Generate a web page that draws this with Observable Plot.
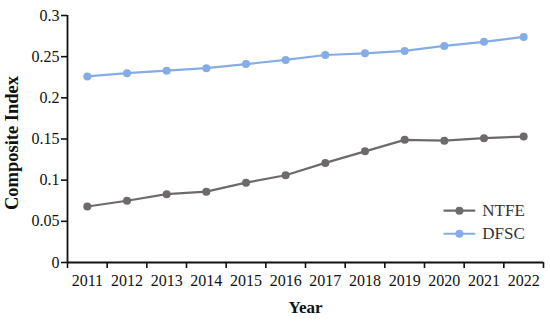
<!DOCTYPE html>
<html><head><meta charset="utf-8">
<script src="https://cdn.jsdelivr.net/npm/d3@7"></script>
<script src="https://cdn.jsdelivr.net/npm/@observablehq/plot@0.6"></script>
<style>
body{margin:0;background:#fff;}
svg text{font-family:'Liberation Serif','DejaVu Serif',serif;}
</style>
</head><body><div id="chart"></div>
<script>
const years = [2011,2012,2013,2014,2015,2016,2017,2018,2019,2020,2021,2022];
const ntfe = [0.068,0.075,0.083,0.086,0.097,0.106,0.121,0.135,0.149,0.148,0.151,0.153];
const dfsc = [0.226,0.230,0.233,0.236,0.241,0.246,0.252,0.254,0.257,0.263,0.268,0.274];
const seriesNames = ["NTFE","DFSC"];
const seriesColors = ["#6e6a6b","#86ace6"];
const yTicks = [0,0.05,0.1,0.15,0.2,0.25,0.3];
const yearEdges = [2010.5,2011.5,2012.5,2013.5,2014.5,2015.5,2016.5,2017.5,2018.5,2019.5,2020.5,2021.5,2022.5];

const data = [];
years.forEach((y,i)=>{ data.push({year:y, value:ntfe[i], series:"NTFE"}); });
years.forEach((y,i)=>{ data.push({year:y, value:dfsc[i], series:"DFSC"}); });

const legend = [
  {series:"NTFE", x1:2019.98, x2:2020.78, y:0.0629},
  {series:"DFSC", x1:2019.98, x2:2020.78, y:0.0349}
];

const font = "'Liberation Serif', 'DejaVu Serif', serif";
const chart = Plot.plot({
  width:550, height:321,
  marginLeft:67, marginRight:7, marginTop:15, marginBottom:59,
  style:{fontFamily:font, fontSize:"16px", color:"#111", background:"#fff"},
  x:{domain:[2010.5,2022.5], label:null},
  y:{domain:[0,0.3], label:null},
  color:{domain:seriesNames, range:seriesColors},
  marks:[
    Plot.axisY({ticks:yTicks, tickFormat:d=>String(d), tickSize:6, tickPadding:2, strokeWidth:1.6, stroke:"#111", fontSize:16, fontFamily:font}),
    Plot.axisX({ticks:yearEdges, tickFormat:()=>"", tickSize:6, strokeWidth:1.6, stroke:"#111"}),
    Plot.axisX({ticks:years, tickFormat:d=>String(d), tickSize:0, tickPadding:12, fontSize:16, fontFamily:font}),
    Plot.ruleX([2010.5], {stroke:"#111", strokeWidth:1.8}),
    Plot.ruleY([0], {stroke:"#111", strokeWidth:1.8}),
    Plot.lineY(data, {x:"year", y:"value", stroke:"series", strokeWidth:2.2}),
    Plot.dot(data, {x:"year", y:"value", fill:"series", r:4}),
    Plot.link(legend, {x1:"x1", x2:"x2", y1:"y", y2:"y", stroke:"series", strokeWidth:2.2}),
    Plot.dot(legend, {x:d=>(d.x1+d.x2)/2, y:"y", fill:"series", r:4}),
    Plot.text(legend, {x:"x2", y:"y", text:"series", textAnchor:"start", dx:7, fontSize:17, fontFamily:font, fill:"#333"}),
    Plot.text(["Year"], {frameAnchor:"bottom", dy:50, text:d=>d, fontWeight:"bold", fontSize:17, fontFamily:font, fill:"#111"}),
    Plot.text(["Composite Index"], {frameAnchor:"left", textAnchor:"middle", dx:-55, dy:4, rotate:-90, text:d=>d, fontWeight:"bold", fontSize:18.5, fontFamily:font, fill:"#111"})
  ]
});
document.getElementById("chart").appendChild(chart);
</script>
</body></html>
